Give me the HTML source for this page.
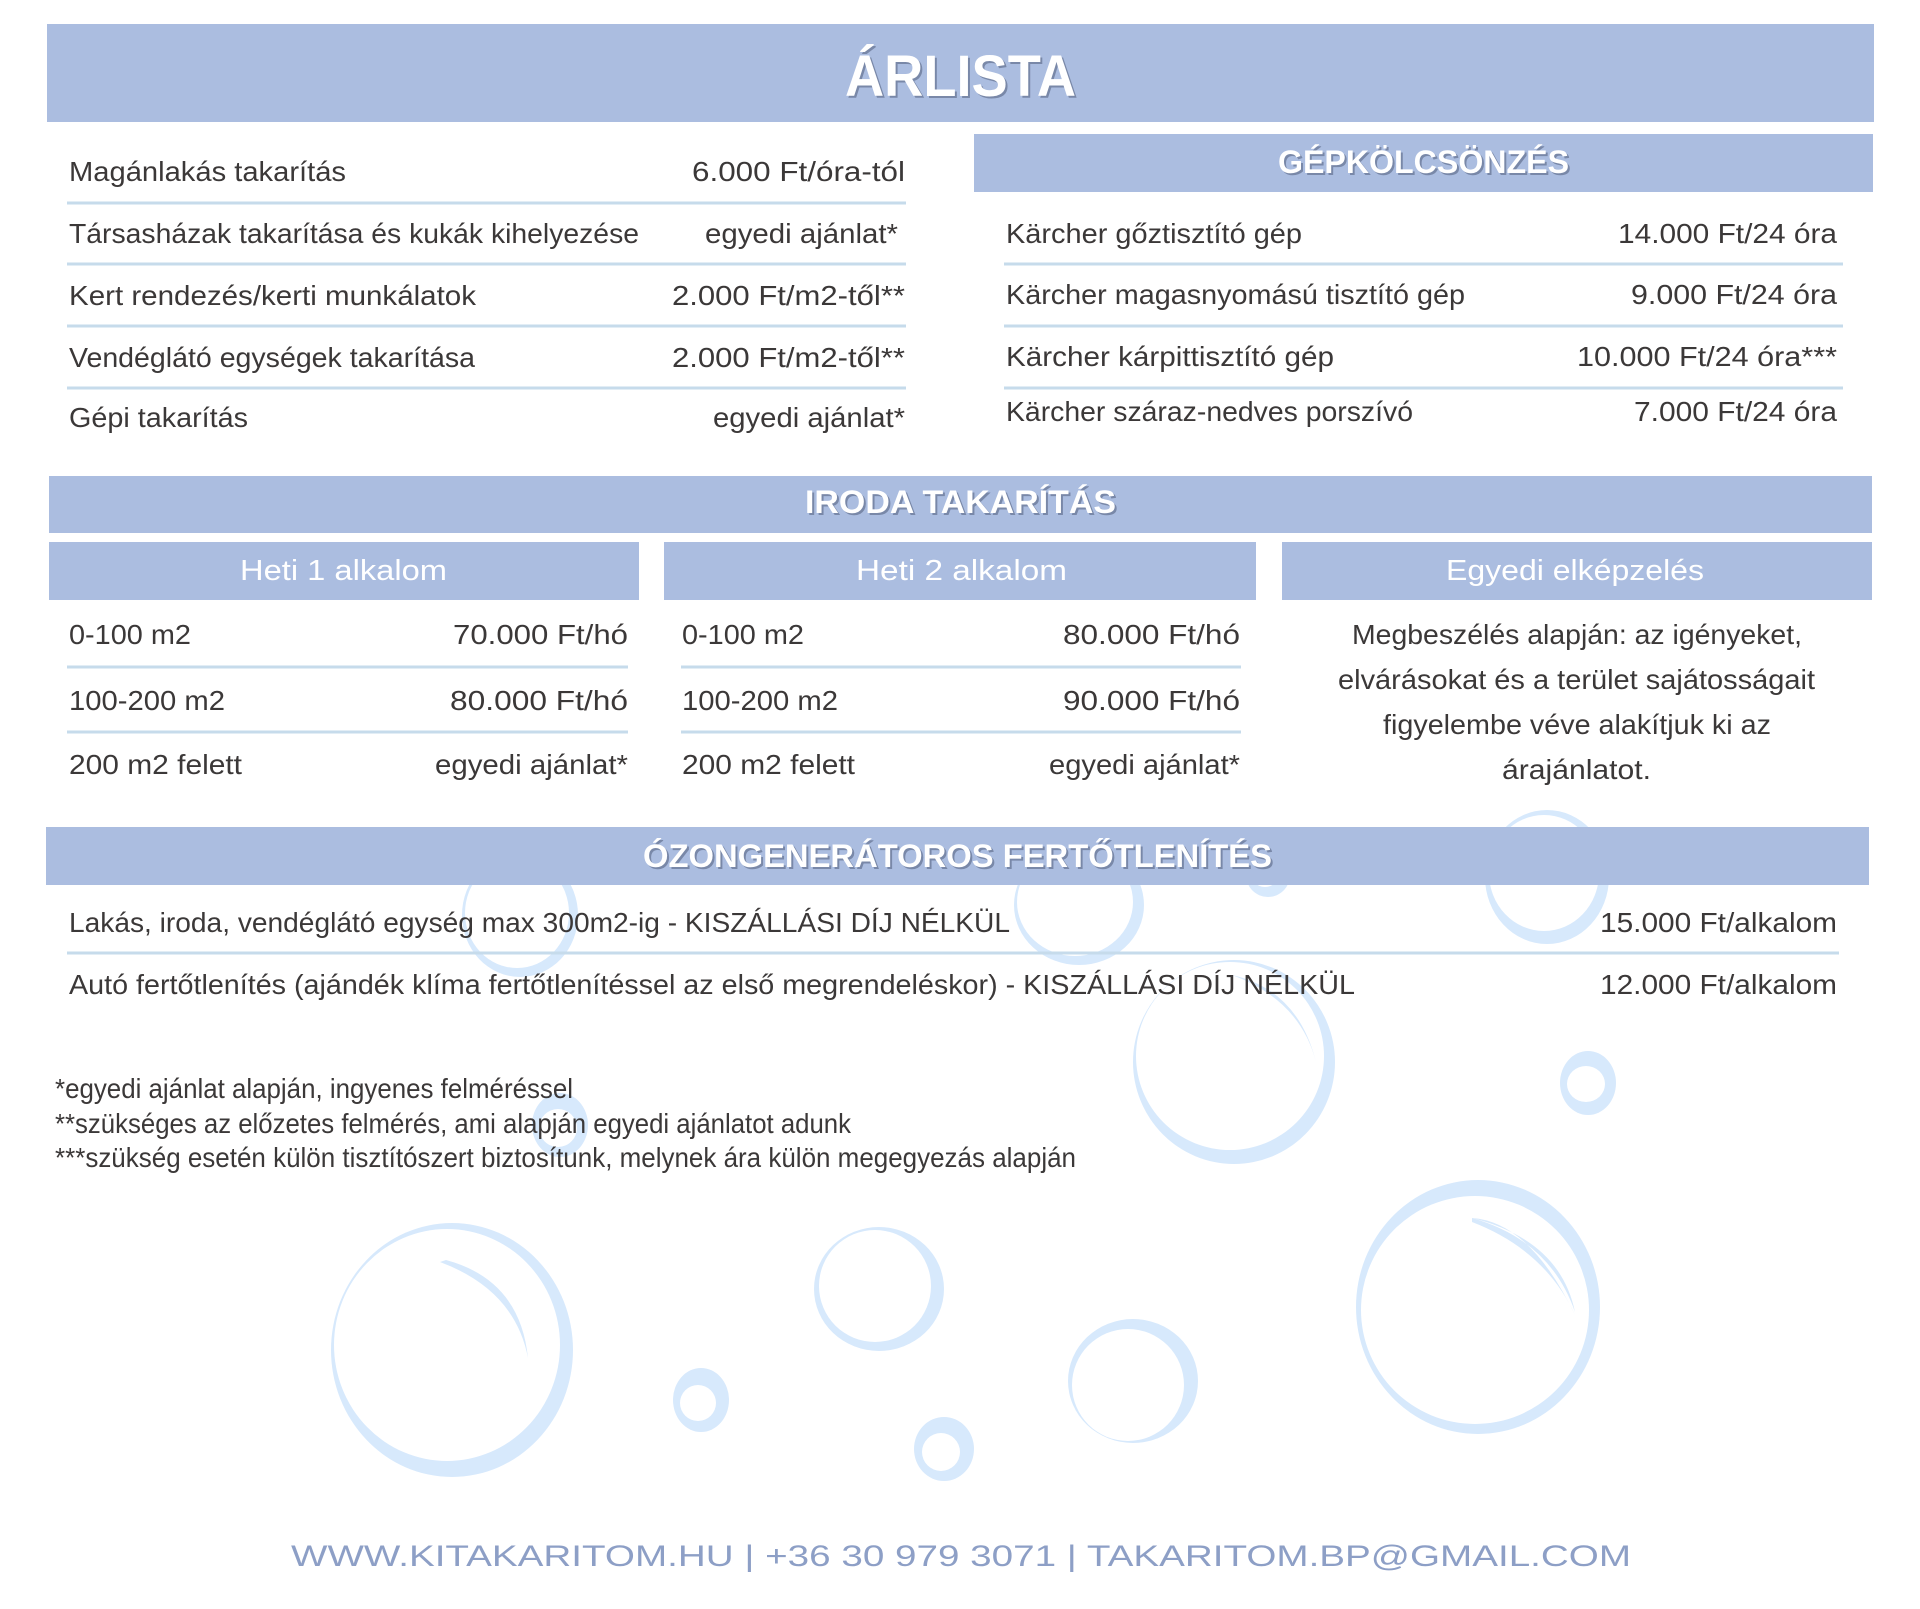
<!DOCTYPE html>
<html><head><meta charset="utf-8"><style>
html,body{margin:0;padding:0;background:#fff;}
svg{display:block;}
text{font-family:"Liberation Sans Narrow","Liberation Sans",sans-serif;}
.t{fill:#3b3838;font-size:28px;}
.w{fill:#fff;}
.s{fill:rgba(60,70,100,0.45);}
.b{fill:#d7e9fc;}
.i{fill:#fff;}
.ln{stroke:#c6dbeb;stroke-width:3;}
.bar{fill:#abbde0;}
</style></head><body>
<svg width="1920" height="1609" viewBox="0 0 1920 1609" xmlns="http://www.w3.org/2000/svg">
<!-- bubbles -->
<g>
<ellipse class="b" cx="452" cy="1350" rx="121" ry="127"/><ellipse class="i" cx="447" cy="1345" rx="113" ry="116"/>
<ellipse class="b" cx="701" cy="1400" rx="28" ry="32"/><ellipse class="i" cx="698" cy="1403" rx="18" ry="18"/>
<ellipse class="b" cx="879" cy="1289" rx="65" ry="62"/><ellipse class="i" cx="875" cy="1286" rx="56" ry="56"/>
<ellipse class="b" cx="944" cy="1449" rx="30" ry="32"/><ellipse class="i" cx="941" cy="1452" rx="19" ry="19"/>
<ellipse class="b" cx="1133" cy="1381" rx="65" ry="62"/><ellipse class="i" cx="1128" cy="1385" rx="56" ry="56"/>
<ellipse class="b" cx="1478" cy="1307" rx="122" ry="127"/><ellipse class="i" cx="1475" cy="1310" rx="114" ry="114"/>
<ellipse class="b" cx="1588" cy="1083" rx="28" ry="32"/><ellipse class="i" cx="1586" cy="1084" rx="19" ry="18"/>
<ellipse class="b" cx="1234" cy="1062" rx="101" ry="102"/><ellipse class="i" cx="1230" cy="1056" rx="94" ry="94"/>
<ellipse class="b" cx="560" cy="1125" rx="28" ry="32"/><ellipse class="i" cx="558" cy="1128" rx="19" ry="19"/>
<ellipse class="b" cx="520" cy="915" rx="58" ry="62"/><ellipse class="i" cx="517" cy="913" rx="52" ry="55"/>
<ellipse class="b" cx="1079" cy="905" rx="65" ry="60"/><ellipse class="i" cx="1075" cy="902" rx="58" ry="54"/>
<ellipse class="b" cx="1268" cy="875" rx="22" ry="22"/><ellipse class="i" cx="1265" cy="872" rx="15" ry="15"/>
<ellipse class="b" cx="1547" cy="877" rx="62" ry="67"/><ellipse class="i" cx="1544" cy="873" rx="55" ry="58"/>
<path class="b" d="M446 1260 Q520 1280 528 1358 Q515 1290 440 1262 Z"/>
<path class="b" d="M1472 1218 Q1550 1240 1575 1312 Q1560 1240 1472 1218 Z M1472 1218 Q1530 1222 1575 1315 Q1545 1250 1472 1222 Z"/>
<path class="b" d="M1232 975 Q1300 1000 1316 1062 Q1298 990 1232 975 Z"/>
</g>

<!-- bars -->
<rect class="bar" x="47" y="24" width="1827" height="98"/>
<text x="847" y="98" class="s" font-size="58" font-weight="bold" textLength="231" lengthAdjust="spacingAndGlyphs">ÁRLISTA</text>
<text x="845" y="96" class="w" font-size="58" font-weight="bold" textLength="231" lengthAdjust="spacingAndGlyphs">ÁRLISTA</text>

<rect class="bar" x="974" y="134" width="899" height="58"/>
<text x="1280" y="175" class="s" font-size="32" font-weight="bold" textLength="291" lengthAdjust="spacingAndGlyphs">GÉPKÖLCSÖNZÉS</text>
<text x="1278" y="173" class="w" font-size="32" font-weight="bold" textLength="291" lengthAdjust="spacingAndGlyphs">GÉPKÖLCSÖNZÉS</text>

<rect class="bar" x="49" y="476" width="1823" height="57"/>
<text x="807" y="515" class="s" font-size="32" font-weight="bold" textLength="311" lengthAdjust="spacingAndGlyphs">IRODA TAKARÍTÁS</text>
<text x="805" y="513" class="w" font-size="32" font-weight="bold" textLength="311" lengthAdjust="spacingAndGlyphs">IRODA TAKARÍTÁS</text>

<rect class="bar" x="49" y="542" width="590" height="58"/>
<rect class="bar" x="664" y="542" width="592" height="58"/>
<rect class="bar" x="1282" y="542" width="590" height="58"/>
<text x="240" y="580" class="w" font-size="29" textLength="207" lengthAdjust="spacingAndGlyphs">Heti 1 alkalom</text>
<text x="856" y="580" class="w" font-size="29" textLength="211" lengthAdjust="spacingAndGlyphs">Heti 2 alkalom</text>
<text x="1446" y="580" class="w" font-size="29" textLength="258" lengthAdjust="spacingAndGlyphs">Egyedi elképzelés</text>

<rect class="bar" x="46" y="827" width="1823" height="58"/>
<text x="645" y="869" class="s" font-size="32" font-weight="bold" textLength="629" lengthAdjust="spacingAndGlyphs">ÓZONGENERÁTOROS FERTŐTLENÍTÉS</text>
<text x="643" y="867" class="w" font-size="32" font-weight="bold" textLength="629" lengthAdjust="spacingAndGlyphs">ÓZONGENERÁTOROS FERTŐTLENÍTÉS</text>

<!-- lines -->
<line class="ln" x1="67" y1="203" x2="906" y2="203"/>
<line class="ln" x1="67" y1="264" x2="906" y2="264"/>
<line class="ln" x1="67" y1="326" x2="906" y2="326"/>
<line class="ln" x1="67" y1="388" x2="906" y2="388"/>
<line class="ln" x1="1004" y1="264" x2="1843" y2="264"/>
<line class="ln" x1="1004" y1="326" x2="1843" y2="326"/>
<line class="ln" x1="1004" y1="388" x2="1843" y2="388"/>
<line class="ln" x1="67" y1="667" x2="628" y2="667"/>
<line class="ln" x1="67" y1="732" x2="628" y2="732"/>
<line class="ln" x1="681" y1="667" x2="1241" y2="667"/>
<line class="ln" x1="681" y1="732" x2="1241" y2="732"/>
<line class="ln" x1="67" y1="953" x2="1839" y2="953"/>

<!-- left list -->
<text class="t" x="69" y="181" textLength="277" lengthAdjust="spacingAndGlyphs">Magánlakás takarítás</text>
<text class="t" x="692" y="181" textLength="213" lengthAdjust="spacingAndGlyphs">6.000 Ft/óra-tól</text>
<text class="t" x="69" y="243" textLength="570" lengthAdjust="spacingAndGlyphs">Társasházak takarítása és kukák kihelyezése</text>
<text class="t" x="705" y="243" textLength="193" lengthAdjust="spacingAndGlyphs">egyedi ajánlat*</text>
<text class="t" x="69" y="305" textLength="407" lengthAdjust="spacingAndGlyphs">Kert rendezés/kerti munkálatok</text>
<text class="t" x="672" y="305" textLength="233" lengthAdjust="spacingAndGlyphs">2.000 Ft/m2-től**</text>
<text class="t" x="69" y="367" textLength="406" lengthAdjust="spacingAndGlyphs">Vendéglátó egységek takarítása</text>
<text class="t" x="672" y="367" textLength="233" lengthAdjust="spacingAndGlyphs">2.000 Ft/m2-től**</text>
<text class="t" x="69" y="427" textLength="179" lengthAdjust="spacingAndGlyphs">Gépi takarítás</text>
<text class="t" x="713" y="427" textLength="192" lengthAdjust="spacingAndGlyphs">egyedi ajánlat*</text>

<!-- right list -->
<text class="t" x="1006" y="243" textLength="296" lengthAdjust="spacingAndGlyphs">Kärcher gőztisztító gép</text>
<text class="t" x="1618" y="243" textLength="219" lengthAdjust="spacingAndGlyphs">14.000 Ft/24 óra</text>
<text class="t" x="1006" y="304" textLength="459" lengthAdjust="spacingAndGlyphs">Kärcher magasnyomású tisztító gép</text>
<text class="t" x="1631" y="304" textLength="206" lengthAdjust="spacingAndGlyphs">9.000 Ft/24 óra</text>
<text class="t" x="1006" y="366" textLength="328" lengthAdjust="spacingAndGlyphs">Kärcher kárpittisztító gép</text>
<text class="t" x="1577" y="366" textLength="260" lengthAdjust="spacingAndGlyphs">10.000 Ft/24 óra***</text>
<text class="t" x="1006" y="421" textLength="407" lengthAdjust="spacingAndGlyphs">Kärcher száraz-nedves porszívó</text>
<text class="t" x="1634" y="421" textLength="203" lengthAdjust="spacingAndGlyphs">7.000 Ft/24 óra</text>

<!-- heti 1 -->
<text class="t" x="69" y="644" textLength="122" lengthAdjust="spacingAndGlyphs">0-100 m2</text>
<text class="t" x="453" y="644" textLength="175" lengthAdjust="spacingAndGlyphs">70.000 Ft/hó</text>
<text class="t" x="69" y="710" textLength="156" lengthAdjust="spacingAndGlyphs">100-200 m2</text>
<text class="t" x="450" y="710" textLength="178" lengthAdjust="spacingAndGlyphs">80.000 Ft/hó</text>
<text class="t" x="69" y="774" textLength="173" lengthAdjust="spacingAndGlyphs">200 m2 felett</text>
<text class="t" x="435" y="774" textLength="193" lengthAdjust="spacingAndGlyphs">egyedi ajánlat*</text>
<!-- heti 2 -->
<text class="t" x="682" y="644" textLength="122" lengthAdjust="spacingAndGlyphs">0-100 m2</text>
<text class="t" x="1063" y="644" textLength="177" lengthAdjust="spacingAndGlyphs">80.000 Ft/hó</text>
<text class="t" x="682" y="710" textLength="156" lengthAdjust="spacingAndGlyphs">100-200 m2</text>
<text class="t" x="1063" y="710" textLength="177" lengthAdjust="spacingAndGlyphs">90.000 Ft/hó</text>
<text class="t" x="682" y="774" textLength="173" lengthAdjust="spacingAndGlyphs">200 m2 felett</text>
<text class="t" x="1049" y="774" textLength="191" lengthAdjust="spacingAndGlyphs">egyedi ajánlat*</text>
<!-- egyedi -->
<text class="t" x="1352" y="644" textLength="450" lengthAdjust="spacingAndGlyphs">Megbeszélés alapján: az igényeket,</text>
<text class="t" x="1338" y="689" textLength="477" lengthAdjust="spacingAndGlyphs">elvárásokat és a terület sajátosságait</text>
<text class="t" x="1383" y="734" textLength="388" lengthAdjust="spacingAndGlyphs">figyelembe véve alakítjuk ki az</text>
<text class="t" x="1502" y="779" textLength="149" lengthAdjust="spacingAndGlyphs">árajánlatot.</text>

<!-- ozon -->
<text class="t" x="69" y="932" textLength="941" lengthAdjust="spacingAndGlyphs">Lakás, iroda, vendéglátó egység max 300m2-ig - KISZÁLLÁSI DÍJ NÉLKÜL</text>
<text class="t" x="1600" y="932" textLength="237" lengthAdjust="spacingAndGlyphs">15.000 Ft/alkalom</text>
<text class="t" x="69" y="994" textLength="1286" lengthAdjust="spacingAndGlyphs">Autó fertőtlenítés (ajándék klíma fertőtlenítéssel az első megrendeléskor) - KISZÁLLÁSI DÍJ NÉLKÜL</text>
<text class="t" x="1600" y="994" textLength="237" lengthAdjust="spacingAndGlyphs">12.000 Ft/alkalom</text>

<!-- footnotes -->
<text class="t" font-size="23" x="55" y="1098" textLength="518" lengthAdjust="spacingAndGlyphs">*egyedi ajánlat alapján, ingyenes felméréssel</text>
<text class="t" font-size="23" x="55" y="1133" textLength="796" lengthAdjust="spacingAndGlyphs">**szükséges az előzetes felmérés, ami alapján egyedi ajánlatot adunk</text>
<text class="t" font-size="23" x="55" y="1167" textLength="1021" lengthAdjust="spacingAndGlyphs">***szükség esetén külön tisztítószert biztosítunk, melynek ára külön megegyezás alapján</text>

<!-- footer -->
<text x="291" y="1566" font-size="30" fill="#8d9fc6" textLength="1340" lengthAdjust="spacingAndGlyphs">WWW.KITAKARITOM.HU | +36 30 979 3071 | TAKARITOM.BP@GMAIL.COM</text>
</svg>
</body></html>
